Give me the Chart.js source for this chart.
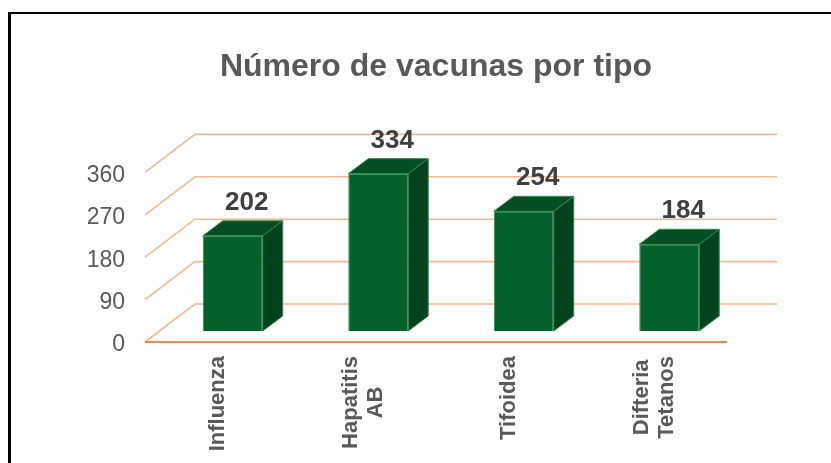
<!DOCTYPE html>
<html>
<head>
<meta charset="utf-8">
<script src="https://cdn.jsdelivr.net/npm/chart.js@4.4.0/dist/chart.umd.min.js"></script>
<style>
  html, body { margin: 0; padding: 0; background: #ffffff; }
  #wrap { position: relative; width: 831px; height: 463px; overflow: hidden; background: #fff; }
  #frame { position: absolute; left: 8px; top: 12px; width: 900px; height: 500px;
           border-left: 3px solid #000; border-top: 2px solid #000; box-sizing: border-box; }
  #c { position: absolute; left: 0; top: 0; }
</style>
</head>
<body>
<div id="wrap">
  <div id="frame"></div>
  <canvas id="c" width="831" height="463"></canvas>
</div>
<script>
// ---- data ----
const categories = [["Influenza"], ["Hapatitis", "AB"], ["Tifoidea"], ["Difteria", "Tetanos"]];
const values = [202, 334, 254, 184];
const yTicks = [0, 90, 180, 270, 360];
const chartTitle = "Número de vacunas por tipo";

// ---- styling / 3D geometry ----
const FONT = "'Liberation Sans', Arial, sans-serif";
const FRONT = "#04612B", SIDE = "#02421D", EDGE = "#2F8A4E";
const WALL = { dx: 50, dy: -38 };   // back wall offset
const BAR_OFF = { dx: 15, dy: -11 }; // bar front plane offset from floor front
const DEPTH = { dx: 20, dy: -15 };  // bar depth

const threeD = {
  id: 'threeD',
  beforeDatasetsDraw(chart) {
    const ctx = chart.ctx, y = chart.scales.y, a = chart.chartArea;
    ctx.save();
    ctx.lineWidth = 1.6;
    ctx.strokeStyle = '#F5B88E';
    yTicks.forEach(v => {
      const py = y.getPixelForValue(v);
      ctx.beginPath();
      ctx.moveTo(a.left, py);
      ctx.lineTo(a.left + WALL.dx, py + WALL.dy);
      ctx.lineTo(a.right + WALL.dx, py + WALL.dy);
      ctx.stroke();
    });
    const p0 = y.getPixelForValue(0);
    ctx.strokeStyle = '#ED8A45';
    ctx.lineWidth = 2.2;
    ctx.beginPath();
    ctx.moveTo(a.left, p0);
    ctx.lineTo(a.right, p0);
    ctx.stroke();
    ctx.restore();
    ctx.save();
    ctx.translate(BAR_OFF.dx, BAR_OFF.dy);
  },
  afterDatasetsDraw(chart) {
    const ctx = chart.ctx;
    const meta = chart.getDatasetMeta(0);
    meta.data.forEach(bar => {
      const p = bar.getProps(['x', 'y', 'base', 'width'], true);
      const l = p.x - p.width / 2, r = p.x + p.width / 2;
      // top face
      ctx.beginPath();
      ctx.moveTo(l, p.y);
      ctx.lineTo(l + DEPTH.dx, p.y + DEPTH.dy);
      ctx.lineTo(r + DEPTH.dx, p.y + DEPTH.dy);
      ctx.lineTo(r, p.y);
      ctx.closePath();
      ctx.fillStyle = '#034F23';
      ctx.fill();
      ctx.strokeStyle = EDGE; ctx.lineWidth = 1; ctx.stroke();
      // side face
      ctx.beginPath();
      ctx.moveTo(r, p.y);
      ctx.lineTo(r + DEPTH.dx, p.y + DEPTH.dy);
      ctx.lineTo(r + DEPTH.dx, p.base + DEPTH.dy);
      ctx.lineTo(r, p.base);
      ctx.closePath();
      ctx.fillStyle = SIDE;
      ctx.fill();
      ctx.stroke();
    });
    ctx.restore();
    // data labels
    ctx.save();
    ctx.font = "bold 26px " + FONT;
    ctx.fillStyle = '#404040';
    ctx.textAlign = 'center';
    ctx.textBaseline = 'alphabetic';
    meta.data.forEach((bar, i) => {
      const p = bar.getProps(['x', 'y'], true);
      ctx.fillText(String(values[i]), p.x + BAR_OFF.dx + 14, p.y + BAR_OFF.dy + DEPTH.dy - 11);
    });
    ctx.restore();
  },
  afterDraw(chart) {
    const ctx = chart.ctx, x = chart.scales.x, a = chart.chartArea;
    ctx.save();
    ctx.font = "bold 22px " + FONT;
    ctx.fillStyle = '#595959';
    ctx.textBaseline = 'middle';
    ctx.textAlign = 'center';
    const lh = 25;
    categories.forEach((lines, i) => {
      const px = x.getPixelForTick(i);
      const w = Math.max(...lines.map(s => ctx.measureText(s).width));
      ctx.save();
      ctx.translate(px, a.bottom + 14);
      ctx.rotate(-Math.PI / 2);
      lines.forEach((s, k) => {
        ctx.fillText(s, -w / 2, (k - (lines.length - 1) / 2) * lh);
      });
      ctx.restore();
    });
    ctx.restore();
  }
};

new Chart(document.getElementById('c'), {
  type: 'bar',
  data: {
    labels: categories,
    datasets: [{
      data: values,
      backgroundColor: FRONT,
      borderColor: EDGE,
      borderWidth: 1,
      barPercentage: 0.412,
      categoryPercentage: 1,
      clip: false
    }]
  },
  options: {
    responsive: false,
    animation: false,
    layout: { padding: { left: 0, right: 104, top: 0, bottom: 0 } },
    plugins: {
      legend: { display: false },
      tooltip: { enabled: false },
      title: {
        display: true,
        text: chartTitle,
        fullSize: false,
        color: '#595959',
        font: { family: FONT, size: 32, weight: 'bold' },
        padding: { top: 48, bottom: 86 }
      }
    },
    scales: {
      x: {
        grid: { display: false, drawTicks: false },
        border: { display: false },
        ticks: { display: false },
        afterFit(s) { s.height = 121; }
      },
      y: {
        min: 0, max: 360,
        afterBuildTicks(s) { s.ticks = yTicks.map(v => ({ value: v })); },
        grid: { display: false, drawTicks: false },
        border: { display: false },
        ticks: { color: '#595959', font: { family: FONT, size: 23 }, padding: 20, labelOffset: 3 },
        afterFit(s) { s.width = 145; }
      }
    }
  },
  plugins: [threeD]
});
</script>
</body>
</html>
